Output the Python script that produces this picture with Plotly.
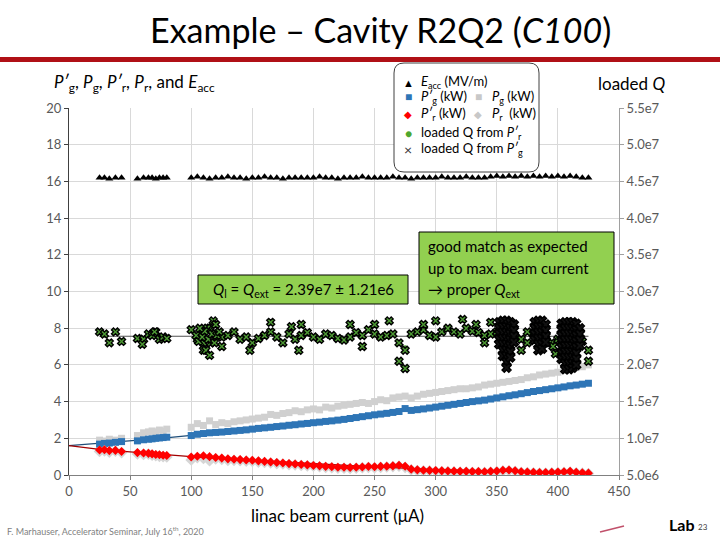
import plotly.graph_objects as go

# ---------------- data ----------------
current = [25, 29, 33, 38, 43, 56, 61, 65, 68, 71, 74, 77, 80,
           100, 105, 110, 115, 120, 125, 130, 135, 140, 145,
           150, 155, 160, 165, 170, 175, 180, 185, 190, 195,
           200, 205, 210, 215, 220, 225, 230, 235, 240, 245,
           250, 255, 260, 265, 270, 275, 280, 285, 290, 295,
           300, 305, 310, 315, 320, 325, 330, 335, 340, 345,
           350, 355, 360, 365, 370, 375, 380, 385, 390, 395,
           400, 405, 410, 415, 420, 425]

eacc = [16.2, 16.2, 16.15, 16.2, 16.2, 16.15, 16.2, 16.2, 16.2, 16.15, 16.2, 16.2, 16.2,
        16.2, 16.25, 16.2, 16.15, 16.2, 16.2, 16.25, 16.2, 16.2, 16.15,
        16.2, 16.2, 16.25, 16.2, 16.2, 16.15, 16.2, 16.2, 16.2, 16.2,
        16.2, 16.25, 16.2, 16.2, 16.15, 16.2, 16.2, 16.2, 16.25, 16.2,
        16.2, 16.2, 16.2, 16.25, 16.2, 16.2, 16.15, 16.2, 16.2, 16.2,
        16.2, 16.25, 16.2, 16.2, 16.2, 16.25, 16.2, 16.2, 16.2, 16.25,
        16.3, 16.25, 16.3, 16.25, 16.3, 16.25, 16.3, 16.25, 16.3, 16.25,
        16.3, 16.25, 16.3, 16.25, 16.2, 16.2]

pg_prime = [1.68, 1.72, 1.74, 1.78, 1.82, 1.86, 1.92, 1.95, 1.97, 2.0, 2.02, 2.04, 2.06,
            2.15, 2.22, 2.26, 2.3, 2.32, 2.34, 2.37, 2.4, 2.43, 2.46,
            2.5, 2.54, 2.57, 2.6, 2.64, 2.67, 2.71, 2.74, 2.78, 2.81,
            2.85, 2.88, 2.92, 2.95, 2.99, 3.03, 3.08, 3.13, 3.18, 3.23,
            3.28, 3.32, 3.36, 3.41, 3.46, 3.62, 3.52, 3.56, 3.6, 3.65,
            3.7, 3.75, 3.8, 3.85, 3.9, 3.95, 4.0, 4.04, 4.08, 4.14,
            4.2, 4.26, 4.32, 4.37, 4.43, 4.49, 4.55, 4.6, 4.65, 4.7,
            4.75, 4.8, 4.86, 4.9, 4.95, 5.0]

pg = [1.9, 1.85, 1.95, 1.9, 2.0, 2.15, 2.3, 2.35, 2.4, 2.35, 2.45, 2.4, 2.5,
      2.6, 2.8, 2.7, 2.95, 2.75, 2.85, 2.8, 2.9, 2.95, 3.0,
      3.05, 3.1, 3.15, 3.3, 3.25, 3.35, 3.4, 3.5, 3.45, 3.55,
      3.6, 3.55, 3.7, 3.65, 3.75, 3.8, 3.85, 3.9, 3.95, 3.9,
      4.0, 4.1, 4.05, 4.2, 4.25, 4.3, 4.2, 4.3, 4.4, 4.45,
      4.5, 4.55, 4.6, 4.65, 4.7, 4.7, 4.75, 4.8, 4.9, 4.95,
      5.0, 5.05, 5.1, 5.15, 5.2, 5.3, 5.35, 5.45, 5.5, 5.55,
      5.6, 5.7, 5.75, 5.85, 5.9, 6.0]

pr_prime = [1.36, 1.38, 1.33, 1.34, 1.28, 1.22, 1.2, 1.18, 1.15, 1.12, 1.1, 1.08, 1.06,
            0.98, 1.02, 1.05, 1.0, 0.95, 0.92, 0.88, 0.86, 0.84, 0.82,
            0.8, 0.77, 0.74, 0.71, 0.68, 0.65, 0.62, 0.6, 0.57, 0.55,
            0.52, 0.5, 0.47, 0.45, 0.42, 0.42, 0.41, 0.42, 0.44, 0.46,
            0.45, 0.47, 0.48, 0.5, 0.53, 0.48, 0.32, 0.28, 0.26, 0.25,
            0.24, 0.23, 0.22, 0.21, 0.2, 0.2, 0.19, 0.19, 0.18, 0.2,
            0.22, 0.26, 0.27, 0.23, 0.18, 0.16, 0.15, 0.14, 0.14, 0.15,
            0.16, 0.18, 0.2, 0.15, 0.12, 0.1]

pr = [1.28, 1.32, 1.25, 1.3, 1.22, 1.15, 1.12, 1.14, 1.08, 1.05, 1.02, 1.0, 0.98,
      0.82, 0.95, 0.9, 0.78, 0.88, 0.85, 0.8, 0.8, 0.78, 0.76,
      0.74, 0.7, 0.68, 0.66, 0.62, 0.6, 0.56, 0.55, 0.52, 0.5,
      0.48, 0.45, 0.42, 0.4, 0.38, 0.37, 0.36, 0.38, 0.4, 0.42,
      0.4, 0.42, 0.44, 0.46, 0.48, 0.42, 0.28, 0.24, 0.22, 0.22,
      0.2, 0.19, 0.18, 0.17, 0.16, 0.16, 0.15, 0.15, 0.14, 0.16,
      0.18, 0.22, 0.23, 0.2, 0.15, 0.13, 0.12, 0.11, 0.11, 0.12,
      0.13, 0.15, 0.16, 0.12, 0.1, 0.08]

# loaded Q in units of 1e7
q_from_pg = [2.45, 2.42, 2.3, 2.45, 2.32, 2.36, 2.35, 2.42, 2.4, 2.45, 2.35, 2.38, 2.36,
             2.48, 2.35, 2.3, 2.5, 2.42, 2.38, 2.4, 2.45, 2.35, 2.38,
             2.3, 2.36, 2.4, 2.45, 2.38, 2.3, 2.42, 2.35, 2.4, 2.44,
             2.38, 2.35, 2.42, 2.4, 2.36, 2.34, 2.38, 2.44, 2.4, 2.48,
             2.42, 2.38, 2.4, 2.42, 2.3, 2.2, 2.42, 2.45, 2.48, 2.4,
             2.38, 2.45, 2.5, 2.45, 2.42, 2.5, 2.46, 2.44, 2.4, 2.42,
             2.45, 2.4, 2.3, 2.38, 2.35, 2.3, 2.42, 2.4, 2.36, 2.3,
             2.35, 2.4, 2.3, 2.35, 2.32, 2.2]

q_from_pr = [2.44, 2.4, 2.32, 2.44, 2.34, 2.37, 2.36, 2.41, 2.39, 2.43, 2.36, 2.37, 2.37,
             2.46, 2.36, 2.32, 2.48, 2.41, 2.39, 2.4, 2.44, 2.36, 2.38,
             2.32, 2.37, 2.4, 2.44, 2.38, 2.32, 2.41, 2.36, 2.4, 2.43,
             2.38, 2.36, 2.41, 2.4, 2.37, 2.35, 2.38, 2.43, 2.4, 2.46,
             2.41, 2.38, 2.4, 2.41, 2.32, 2.24, 2.41, 2.44, 2.46, 2.4,
             2.38, 2.44, 2.48, 2.44, 2.42, 2.48, 2.45, 2.43, 2.4, 2.42,
             2.44, 2.4, 2.32, 2.38, 2.36, 2.32, 2.41, 2.4, 2.37, 2.32,
             2.36, 2.4, 2.32, 2.35, 2.33, 2.22]

# extra scattered Q (from P'g) points
q_scatter_x = [108, 110, 112, 115, 118, 120, 125, 60, 70, 148,
               165, 182, 188, 190, 230, 240, 250, 262, 270, 275,
               290, 300, 322, 333, 340, 345, 370, 375, 396, 398,
               425, 116, 113, 104, 106, 109, 111, 114, 117, 119,
               121, 123, 107]
q_scatter_y = [2.45, 2.2, 2.2, 2.13, 2.6, 2.55, 2.25, 2.28, 2.45, 2.2,
               2.58, 2.52, 2.2, 2.55, 2.55, 2.25, 2.55, 2.6, 2.05, 1.95,
               2.55, 2.6, 2.62, 2.55, 2.3, 2.58, 2.2, 2.45, 2.25, 2.15,
               2.05, 2.3, 2.5, 2.4, 2.32, 2.38, 2.46, 2.35, 2.42, 2.3,
               2.4, 2.45, 2.5]

# dense Q clusters at the highest currents
q_cluster_x = [352, 352, 352, 352, 352,
               355, 355, 355, 355, 355, 355, 355,
               358, 358, 358, 358, 358, 358, 358, 358, 358,
               361, 361, 361, 361, 361, 361, 361,
               364, 364, 364, 364,
               381, 381, 381, 381,
               384, 384, 384, 384, 384, 384,
               387, 387, 387, 387, 387, 387,
               390, 390, 390, 390,
               403, 403, 403, 403, 403, 403, 403,
               406, 406, 406, 406, 406, 406, 406, 406, 406,
               409, 409, 409, 409, 409, 409, 409, 409, 409,
               412, 412, 412, 412, 412, 412, 412, 412, 412,
               415, 415, 415, 415, 415, 415, 415, 415,
               418, 418, 418, 418]
q_cluster_y = [2.58, 2.5, 2.42, 2.35, 2.28,
               2.6, 2.52, 2.44, 2.36, 2.28, 2.2, 2.12,
               2.6, 2.52, 2.44, 2.36, 2.28, 2.2, 2.12, 2.04, 1.96,
               2.58, 2.5, 2.42, 2.34, 2.26, 2.18, 2.1,
               2.55, 2.47, 2.39, 2.31,
               2.58, 2.5, 2.42, 2.34,
               2.6, 2.52, 2.44, 2.36, 2.28, 2.2,
               2.6, 2.52, 2.44, 2.36, 2.28, 2.22,
               2.55, 2.47, 2.39, 2.31,
               2.56, 2.48, 2.4, 2.32, 2.24, 2.16, 2.08,
               2.58, 2.5, 2.42, 2.34, 2.26, 2.18, 2.1, 2.02, 1.94,
               2.58, 2.5, 2.42, 2.34, 2.26, 2.18, 2.1, 2.02, 1.94,
               2.58, 2.5, 2.42, 2.34, 2.26, 2.18, 2.1, 2.02, 1.96,
               2.56, 2.48, 2.4, 2.32, 2.24, 2.16, 2.08, 2.0,
               2.5, 2.42, 2.34, 2.26]

fit_x = [0, 25, 50, 75, 100, 150, 200, 250, 300, 350, 400, 425]
fit_pg = [1.6, 1.72, 1.86, 2.0, 2.16, 2.5, 2.86, 3.26, 3.7, 4.18, 4.72, 5.0]
fit_pr = [1.6, 1.4, 1.26, 1.13, 1.0, 0.8, 0.6, 0.44, 0.3, 0.2, 0.13, 0.1]

q_mean_x = [25, 425]
q_mean = [2.39, 2.39]

x_ticks = [0, 50, 100, 150, 200, 250, 300, 350, 400, 450]
y_ticks = [0, 2, 4, 6, 8, 10, 12, 14, 16, 18, 20]
q_ticks = [0.5, 1.0, 1.5, 2.0, 2.5, 3.0, 3.5, 4.0, 4.5, 5.0, 5.5]
q_tick_text = ["5.0e6", "1.0e7", "1.5e7", "2.0e7", "2.5e7", "3.0e7",
               "3.5e7", "4.0e7", "4.5e7", "5.0e7", "5.5e7"]

# ---------------- layout helpers ----------------
FONT = "Lato"
W, H = 720, 540
L, R, T, B = 69, 101, 108, 65
PW, PH = W - L - R, H - T - B


def px(x, y):
    return (x - L) / PW, (H - B - y) / PH


def ann(x, y, text, size=13, color="black", xanchor="left", yanchor="middle"):
    xp, yp = px(x, y)
    return dict(x=xp, y=yp, xref="paper", yref="paper", text=text, showarrow=False,
                xanchor=xanchor, yanchor=yanchor,
                font=dict(family=FONT, size=size, color=color))


def rect(x0, y0, x1, y1, fill, line="black", lw=1):
    a0, b0 = px(x0, y1)
    a1, b1 = px(x1, y0)
    return dict(type="rect", xref="paper", yref="paper", x0=a0, y0=b0, x1=a1, y1=b1,
                fillcolor=fill, line=dict(color=line, width=lw), layer="above")


def rounded(x0, y0, x1, y1, r):
    a0, bt = px(x0, y0)
    a1, bb = px(x1, y1)
    rx, ry = r / PW, r / PH
    p = (f"M {a0+rx},{bt} L {a1-rx},{bt} Q {a1},{bt} {a1},{bt-ry} "
         f"L {a1},{bb+ry} Q {a1},{bb} {a1-rx},{bb} L {a0+rx},{bb} "
         f"Q {a0},{bb} {a0},{bb+ry} L {a0},{bt-ry} Q {a0},{bt} {a0+rx},{bt} Z")
    return dict(type="path", xref="paper", yref="paper", path=p, fillcolor="white",
                line=dict(color="#404040", width=1), layer="above")


fig = go.Figure()

# generator powers
fig.add_trace(go.Scatter(x=current, y=pg, mode="markers", name="Pg (kW)",
                         marker=dict(symbol="square", size=7, color="#D0D0D0")))
fig.add_trace(go.Scatter(x=fit_x, y=fit_pg, mode="lines", line=dict(color="#1F4E79", width=1.2),
                         name="fit P'g"))
fig.add_trace(go.Scatter(x=current, y=pg_prime, mode="markers", name="P'g (kW)",
                         marker=dict(symbol="square", size=7, color="#2E75B6")))
# reflected powers
fig.add_trace(go.Scatter(x=current, y=pr, mode="markers", name="Pr (kW)",
                         marker=dict(symbol="diamond", size=9, color="#D6D6D6")))
fig.add_trace(go.Scatter(x=fit_x, y=fit_pr, mode="lines", line=dict(color="#A00000", width=1.2),
                         name="fit P'r"))
fig.add_trace(go.Scatter(x=current, y=pr_prime, mode="markers", name="P'r (kW)",
                         marker=dict(symbol="diamond", size=7, color="#FF0000")))
# loaded Q
fig.add_trace(go.Scatter(x=q_mean_x, y=q_mean, mode="lines", yaxis="y2",
                         line=dict(color="#505050", width=1.2), name="mean Q"))
fig.add_trace(go.Scatter(x=current, y=q_from_pr, mode="markers", yaxis="y2",
                         name="loaded Q from P'r",
                         marker=dict(symbol="circle", size=4, color="#4E9A2E")))
xm = dict(symbol="x", size=7, color="#4E9A35", line=dict(color="black", width=1.4))
fig.add_trace(go.Scatter(x=current, y=q_from_pg, mode="markers", yaxis="y2",
                         name="loaded Q from P'g", marker=xm))
fig.add_trace(go.Scatter(x=q_scatter_x, y=q_scatter_y, mode="markers", yaxis="y2",
                         name="loaded Q from P'g", marker=xm))
fig.add_trace(go.Scatter(x=q_cluster_x, y=q_cluster_y, mode="markers", yaxis="y2",
                         name="loaded Q from P'g",
                         marker=dict(symbol="x", size=8, color="#111111",
                                     line=dict(color="black", width=1.4))))
# accelerating field
fig.add_trace(go.Scatter(x=current, y=eacc, mode="markers", name="Eacc (MV/m)",
                         marker=dict(symbol="triangle-up", size=7, color="black")))

tickfont = dict(family=FONT, size=13, color="#595959")

shapes = [
    rect(0, 57, 720, 62, "#B01016", line="#B01016", lw=0),
    rounded(394, 63, 539, 172, 10),
    rect(198, 275, 408, 304, "#92D050"),
    rect(419, 232, 614, 304, "#92D050"),
]
x0p, y0p = px(600, 532)
x1p, y1p = px(624, 526)
shapes.append(dict(type="line", xref="paper", yref="paper", x0=x0p, y0=y0p, x1=x1p, y1=y1p,
                   line=dict(color="#C0506A", width=1.5)))

annotations = [
    ann(380, 29, "Example – Cavity R2Q2 (<i>C100</i>)", size=34, xanchor="center"),
    ann(52, 83, "<i>P′</i><sub>g</sub>, <i>P</i><sub>g</sub>, <i>P′</i><sub>r</sub>, "
                "<i>P</i><sub>r</sub>, and <i>E</i><sub>acc</sub>", size=17),
    ann(596, 83, "loaded <i>Q</i>", size=17),
    ann(337, 515, "linac beam current (μA)", size=17, xanchor="center"),
    # legend
    ann(408, 82, "▲", size=11, xanchor="center"),
    ann(419, 82, "<i>E</i><sub>acc</sub> (MV/m)", size=13),
    ann(408, 97, "■", size=12, color="#2E75B6", xanchor="center"),
    ann(419, 97, "<i>P′</i><sub>g</sub> (kW)", size=13),
    ann(478, 97, "■", size=12, color="#C8C8C8", xanchor="center"),
    ann(490, 97, "<i>P</i><sub>g</sub> (kW)", size=13),
    ann(408, 114, "◆", size=10, color="#FF0000", xanchor="center"),
    ann(419, 114, "<i>P′</i><sub>r</sub> (kW)", size=13),
    ann(478, 114, "◆", size=10, color="#C8C8C8", xanchor="center"),
    ann(490, 114, "<i>P</i><sub>r</sub>  (kW)", size=13),
    ann(408, 133, "●", size=12, color="#4EA72E", xanchor="center"),
    ann(419, 133, "loaded Q from <i>P′</i><sub>r</sub>", size=13),
    ann(408, 149, "×", size=14, color="#333333", xanchor="center"),
    ann(419, 149, "loaded Q from <i>P′</i><sub>g</sub>", size=13),
    # green boxes
    ann(303, 290, "<i>Q</i><sub>l</sub> = <i>Q</i><sub>ext</sub> = 2.39e7 ± 1.21e6",
        size=15, xanchor="center"),
    ann(426, 246, "good match as expected", size=15),
    ann(426, 268, "up to max. beam current", size=15),
    ann(426, 290, "→ proper <i>Q</i><sub>ext</sub>", size=15),
    # footer
    ann(5, 531, "F. Marhauser, Accelerator Seminar, July 16<sup>th</sup>, 2020", size=9,
        color="#7F7F7F"),
    ann(667, 524, "<b>Lab</b>", size=16),
    ann(696, 527, "23", size=8, color="#404040"),
]

fig.update_layout(
    width=W, height=H,
    margin=dict(l=L, r=R, t=T, b=B),
    paper_bgcolor="white", plot_bgcolor="white",
    showlegend=False,
    font=dict(family=FONT),
    xaxis=dict(range=[0, 450], tickvals=x_ticks, showgrid=True, gridcolor="#D9D9D9",
               zeroline=False, showline=True, linecolor="#808080", ticks="outside",
               ticklen=4, tickcolor="#808080", tickfont=tickfont),
    yaxis=dict(range=[0, 20], tickvals=y_ticks, showgrid=True, gridcolor="#D9D9D9",
               zeroline=False, showline=True, linecolor="#404040", ticks="outside",
               ticklen=4, tickcolor="#404040", tickfont=tickfont),
    yaxis2=dict(range=[0.5, 5.5], tickvals=q_ticks, ticktext=q_tick_text, overlaying="y",
                side="right", showgrid=False, zeroline=False, showline=True,
                linecolor="#A0A0A0", ticks="outside", ticklen=4, tickcolor="#A0A0A0",
                tickfont=tickfont),
    shapes=shapes,
    annotations=annotations,
)

fig.write_html("out.html")
